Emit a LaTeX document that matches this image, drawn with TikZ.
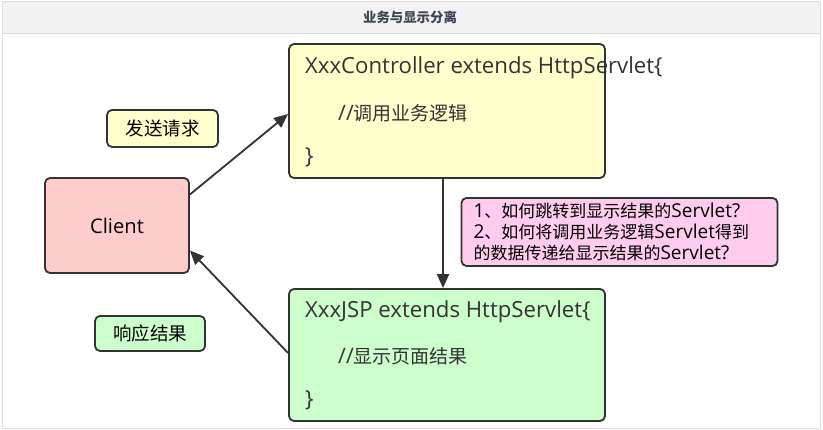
\documentclass[tikz,border=0pt]{standalone}
\usepackage{fontspec}
\setmainfont{Noto Sans CJK SC}
\newfontfamily\latin[Scale=1.12]{Open Sans}
\usetikzlibrary{arrows.meta}

\definecolor{boxline}{HTML}{333333}
\definecolor{yellowfill}{HTML}{FFFFCC}
\definecolor{pinkfill}{HTML}{FFCCCC}
\definecolor{notefill}{HTML}{FFCCEE}
\definecolor{greenfill}{HTML}{CCFFCC}
\definecolor{titlebg}{HTML}{F2F2F2}
\definecolor{frameline}{HTML}{DDDDDD}

\tikzset{
  card/.style={draw=boxline, line width=1.8pt, rounded corners=5pt, inner sep=0pt},
  code/.style={anchor=west, inner sep=0pt, font=\fontsize{19}{22}\selectfont, text=boxline},
  codehead/.style={code, font=\fontsize{19.8}{23}\selectfont\latin},
  flow/.style={draw=boxline, line width=1.8pt, -{Triangle[length=14pt,width=12pt]}},
}

\begin{document}
\begin{tikzpicture}[x=1pt,y=-1pt]
  \useasboundingbox (0,0) rectangle (823,430);
  % frame and title
  \draw[frameline, fill=white] (2,1) rectangle (820,428);
  \draw[frameline, fill=titlebg] (2,1) rectangle (820,33);
  \node (title) at (410,17) {\fontsize{13.4}{15}\selectfont\bfseries\color[HTML]{3D4552}业务与显示分离};

  % boxes
  \node[card, fill=pinkfill, minimum width=144pt, minimum height=95pt] (client) at (117,225.5)
    {\fontsize{18}{21}\selectfont\latin Client};
  \node[card, fill=yellowfill, minimum width=111pt, minimum height=37pt] (send) at (162.5,128.5)
    {\fontsize{18.5}{21}\selectfont 发送请求};
  \node[card, fill=greenfill, minimum width=110pt, minimum height=35pt] (resp) at (150,333.5)
    {\fontsize{18.5}{21}\selectfont 响应结果};
  \node[card, fill=yellowfill, minimum width=316pt, minimum height=134pt] (ctrl) at (447,111) {};
  \node[card, fill=greenfill, minimum width=316pt, minimum height=132pt] (jsp) at (447,355) {};
  \node[card, fill=notefill, minimum width=315pt, minimum height=68pt, text width=292pt,
        inner xsep=12pt, align=left, font=\fontsize{17}{21}\selectfont] (note) at (619.5,232)
    {{\latin 1}、如何跳转到显示结果的{\latin Servlet?}\\
     {\latin 2}、如何将调用业务逻辑{\latin Servlet}得到\\
     的数据传递给显示结果的{\latin Servlet?}};

  % code lines
  \node[codehead] (ctrlhead) at (305,68) {XxxController extends HttpServlet\{};
  \node[code] (ctrlbody) at (338,113) {{\latin //}调用业务逻辑};
  \node[codehead] (ctrlend) at (305,157) {\}};
  \node[codehead] (jsphead) at (305,312) {XxxJSP extends HttpServlet\{};
  \node[code] (jspbody) at (338,356) {{\latin //}显示页面结果};
  \node[codehead] (jspend) at (305,400) {\}};

  % arrows
  \draw[flow] ([yshift=31pt]client.east) -- ([yshift=-3pt]ctrl.west);
  \draw[flow] ([yshift=2pt]jsp.west) -- ([yshift=-25pt]client.east);
  \draw[flow] ([xshift=-4pt]ctrl.south) -- ([xshift=-4pt]jsp.north);
\end{tikzpicture}
\end{document}
